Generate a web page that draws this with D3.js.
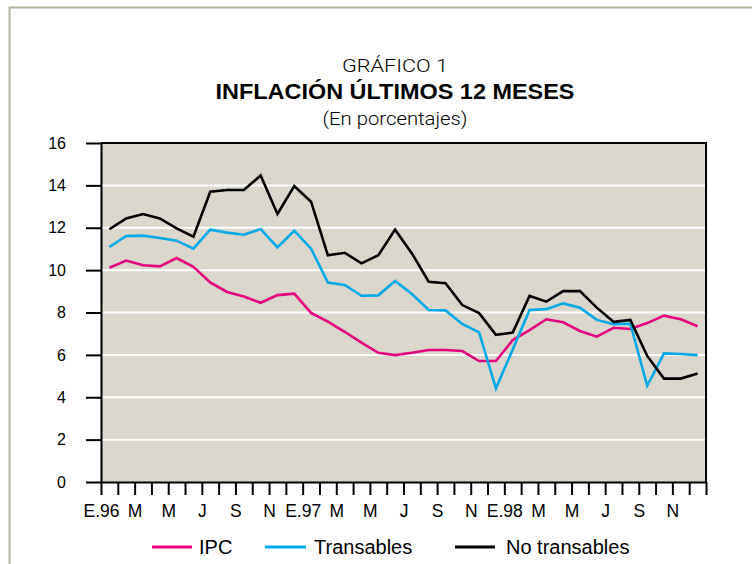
<!DOCTYPE html>
<html>
<head>
<meta charset="utf-8">
<script src="https://cdn.jsdelivr.net/npm/d3@7"></script>
<style>
  body { margin: 0; background: #fff; }
  svg { display: block; font-family: "Liberation Sans", Arial, sans-serif; }
</style>
</head>
<body>
<svg id="chart" width="752" height="564"></svg>
<script>
// months Jan-96 .. Dec-98, one value per month
var monthLabels = ["E.96","M","M","J","S","N","E.97","M","M","J","S","N","E.98","M","M","J","S","N"];

var ipc = [10.11, 10.45, 10.23, 10.18, 10.57, 10.16, 9.42, 8.97, 8.75, 8.46, 8.82, 8.89,
           7.98, 7.57, 7.09, 6.58, 6.10, 5.99, 6.10, 6.23, 6.23, 6.18, 5.71, 5.71,
           6.70, 7.17, 7.68, 7.54, 7.13, 6.86, 7.28, 7.22, 7.50, 7.85, 7.68, 7.35];

var transables = [11.09, 11.61, 11.63, 11.52, 11.39, 11.01, 11.91, 11.77, 11.67, 11.94, 11.07, 11.86,
                  11.01, 9.41, 9.30, 8.79, 8.81, 9.49, 8.87, 8.12, 8.10, 7.46, 7.06, 4.42,
                  6.26, 8.12, 8.16, 8.43, 8.23, 7.65, 7.45, 7.47, 4.54, 6.07, 6.04, 5.99];

var noTransables = [11.93, 12.44, 12.65, 12.44, 11.97, 11.58, 13.70, 13.78, 13.78, 14.47, 12.65, 13.97,
                    13.23, 10.70, 10.82, 10.32, 10.70, 11.91, 10.79, 9.45, 9.38, 8.35, 7.97, 6.95,
                    7.05, 8.78, 8.51, 9.01, 9.01, 8.23, 7.56, 7.65, 5.95, 4.88, 4.88, 5.12];

var yTicks = [0, 2, 4, 6, 8, 10, 12, 14, 16];

var series = [
  {name: "IPC", values: ipc, color: "#e5007d"},
  {name: "Transables", values: transables, color: "#00a9e8"},
  {name: "No transables", values: noTransables, color: "#000"}
];

var svg = d3.select("#chart");

// outer frame (only top and left edges show)
svg.append("path")
  .attr("d", "M9.5,564V7.5H752")
  .attr("fill", "none")
  .attr("stroke", "#b7b2a2")
  .attr("stroke-width", 2);

// titles
var cx = 395;
svg.append("text").attr("x", cx).attr("y", 72)
  .attr("text-anchor", "middle")
  .style("font-family", "Roboto, 'Liberation Sans', sans-serif")
  .style("font-weight", 300)
  .style("font-size", "19px")
  .attr("textLength", 106).attr("lengthAdjust", "spacingAndGlyphs")
  .text("GRÁFICO 1");
svg.append("text").attr("x", cx).attr("y", 99)
  .attr("text-anchor", "middle")
  .style("font-weight", "bold")
  .style("font-size", "21.5px")
  .attr("textLength", 359).attr("lengthAdjust", "spacingAndGlyphs")
  .text("INFLACIÓN ÚLTIMOS 12 MESES");
svg.append("text").attr("x", cx).attr("y", 125)
  .attr("text-anchor", "middle")
  .style("font-family", "Roboto, 'Liberation Sans', sans-serif")
  .style("font-weight", 300)
  .style("font-size", "19px")
  .attr("textLength", 145).attr("lengthAdjust", "spacingAndGlyphs")
  .text("(En porcentajes)");

var x = d3.scaleLinear().domain([0, 36]).range([101, 706]);
var y = d3.scaleLinear().domain([0, 16]).range([482, 143]);

// plot background
svg.append("rect")
  .attr("x", x(0)).attr("y", y(16))
  .attr("width", x(36) - x(0)).attr("height", y(0) - y(16))
  .attr("fill", "#dbd7cd");

// white gridlines
svg.append("g")
  .selectAll("line")
  .data(yTicks.filter(function(d) { return d > 0 && d < 16; }))
  .enter().append("line")
    .attr("x1", x(0)).attr("x2", x(36))
    .attr("y1", function(d) { return y(d); })
    .attr("y2", function(d) { return y(d); })
    .attr("stroke", "#fff")
    .attr("stroke-width", 2);

// top and right border
svg.append("path")
  .attr("d", "M" + x(0) + "," + y(16) + "H" + x(36) + "V" + y(0))
  .attr("fill", "none")
  .attr("stroke", "#000")
  .attr("stroke-width", 2);

var line = d3.line()
  .x(function(d, i) { return x(i + 0.5); })
  .y(function(d) { return y(d); });

svg.append("g")
  .selectAll("path")
  .data(series)
  .enter().append("path")
    .attr("fill", "none")
    .attr("stroke", function(d) { return d.color; })
    .attr("stroke-width", 2.6)
    .attr("stroke-linejoin", "miter")
    .attr("d", function(d) { return line(d.values); });

// axes
var yAxis = svg.append("g")
  .attr("transform", "translate(" + x(0) + ",0)")
  .call(d3.axisLeft(y).tickValues(yTicks).tickSize(15).tickSizeOuter(0).tickPadding(20));

var xAxis = svg.append("g")
  .attr("transform", "translate(0," + y(0) + ")")
  .call(d3.axisBottom(x)
    .tickValues(d3.range(37))
    .tickSize(13).tickSizeOuter(0).tickPadding(10)
    .tickFormat(function(d) { return (d % 2 === 0 && d < 36) ? monthLabels[d / 2] : ""; }));

[yAxis, xAxis].forEach(function(a) {
  a.selectAll("path, line").attr("stroke", "#000").attr("stroke-width", 2);
  a.selectAll("text").attr("fill", "#000")
    .style("font-family", "'Liberation Sans', Arial, sans-serif");
});
yAxis.selectAll("text").style("font-size", "16px");
xAxis.selectAll("text").style("font-size", "17.5px");

// legend
var legendItems = [
  {x1: 152, x2: 192, tx: 199},
  {x1: 265, x2: 306, tx: 314},
  {x1: 455, x2: 495, tx: 506}
];
var legend = svg.append("g").attr("transform", "translate(0,547)");
legend.selectAll("line")
  .data(series)
  .enter().append("line")
    .attr("x1", function(d, i) { return legendItems[i].x1; })
    .attr("x2", function(d, i) { return legendItems[i].x2; })
    .attr("stroke", function(d) { return d.color; })
    .attr("stroke-width", 3);
legend.selectAll("text")
  .data(series)
  .enter().append("text")
    .attr("x", function(d, i) { return legendItems[i].tx; })
    .attr("dy", "0.36em")
    .style("font-size", "20px")
    .text(function(d) { return d.name; });
</script>
</body>
</html>
